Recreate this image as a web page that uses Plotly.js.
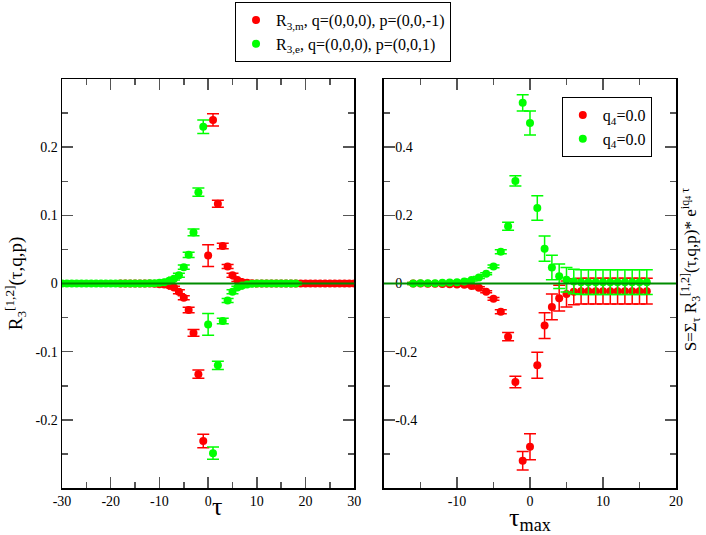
<!DOCTYPE html>
<html><head><meta charset="utf-8">
<script src="https://cdn.plot.ly/plotly-3.0.1.min.js"></script>
<style>body{margin:0;background:#fff}</style></head>
<body><div id="chart" style="width:706px;height:535px"></div>
<script>
// ---- Left panel: R3 vs tau ----
const tauLeftM = [-18,-17,-16,-15,-14,-13,-12,-11,-10,-9,-8,-7,-6,-5,-4,-3,-2,-1,0,1,2,3,4,5,6,7,8,9,10,11,12,13,14,15,16,17,18,19,20,21,22,23,24,25,26,27,28,29,30];
const valLeftM = [0,0,0,0,0,0,0,-0.0005,-0.001,-0.0015,-0.003,-0.006,-0.012,-0.021,-0.039,-0.0725,-0.133,-0.231,0.041,0.240,0.117,0.055,0.025,0.012,0.005,0.002,0.001,0.0005,0,0,0,0,0,0,0,0,0,0,0,0,0,0,0,0,0,0,0,0,0];
const errLeftM = [0.002,0.002,0.002,0.002,0.002,0.002,0.002,0.002,0.002,0.002,0.002,0.002,0.003,0.003,0.004,0.005,0.006,0.010,0.016,0.009,0.005,0.004,0.003,0.003,0.002,0.002,0.002,0.002,0.002,0.002,0.002,0.002,0.002,0.002,0.002,0.002,0.002,0.002,0.002,0.002,0.002,0.002,0.002,0.002,0.002,0.002,0.002,0.002,0.002];

const tauLeftE = [-30,-29,-28,-27,-26,-25,-24,-23,-22,-21,-20,-19,-18,-17,-16,-15,-14,-13,-12,-11,-10,-9,-8,-7,-6,-5,-4,-3,-2,-1,0,1,2,3,4,5,6,7,8,9,10,11,12,13,14,15,16,17,18];
const valLeftE = [0,0,0,0,0,0,0,0,0,0,0,0,0,0,0,0,0,0,0.0005,0.0005,0.001,0.002,0.004,0.007,0.012,0.024,0.042,0.075,0.134,0.230,-0.060,-0.249,-0.120,-0.055,-0.025,-0.012,-0.006,-0.003,-0.0015,-0.0005,0,0,0,0,0,0,0,0,0];
const errLeftE = [0.002,0.002,0.002,0.002,0.002,0.002,0.002,0.002,0.002,0.002,0.002,0.002,0.002,0.002,0.002,0.002,0.002,0.002,0.002,0.002,0.002,0.002,0.002,0.002,0.003,0.003,0.004,0.005,0.006,0.010,0.016,0.009,0.006,0.004,0.003,0.003,0.002,0.002,0.002,0.002,0.002,0.002,0.002,0.002,0.002,0.002,0.002,0.002,0.002];

// ---- Right panel: S vs tau_max ----
const tauRight = [-16,-15,-14,-13,-12,-11,-10,-9,-8,-7,-6,-5,-4,-3,-2,-1,0,1,2,3,4,5,6,7,8,9,10,11,12,13,14,15,16];
const valRightM = [0,0,-0.0005,-0.001,-0.0015,-0.002,-0.003,-0.004,-0.007,-0.0127,-0.0245,-0.045,-0.083,-0.156,-0.289,-0.520,-0.479,-0.240,-0.1235,-0.0686,-0.043,-0.031,-0.024,-0.0225,-0.0225,-0.0225,-0.0225,-0.0225,-0.0225,-0.0225,-0.0225,-0.0225,-0.0225];
const errRightM = [0.003,0.003,0.003,0.003,0.003,0.003,0.003,0.003,0.003,0.003,0.003,0.004,0.006,0.012,0.017,0.027,0.038,0.038,0.038,0.038,0.038,0.038,0.038,0.038,0.038,0.038,0.038,0.038,0.038,0.038,0.038,0.038,0.038];
const valRightE = [0,0.0005,0.001,0.001,0.002,0.003,0.004,0.006,0.010,0.0176,0.0285,0.050,0.093,0.168,0.301,0.530,0.471,0.2215,0.102,0.047,0.0215,0.011,0.006,0.004,0.004,0.004,0.004,0.004,0.004,0.004,0.004,0.004,0.004];
const errRightE = [0.003,0.003,0.003,0.003,0.003,0.003,0.003,0.003,0.003,0.003,0.003,0.004,0.006,0.012,0.015,0.024,0.035,0.036,0.037,0.036,0.036,0.036,0.036,0.036,0.036,0.036,0.036,0.036,0.036,0.036,0.036,0.036,0.036];

// ---- Tick labels ----
const xLeftTicks = [-30,-20,-10,0,10,20,30];
const xLeftText = ['-30','-20','-10','0','10','20','30'];
const xRightTicks = [-20,-10,0,10,20];
const xRightText = ['-20','-10','0','10','20'];
const yLeftTicks = [-0.2,-0.1,0,0.1,0.2];
const yLeftText = ['-0.2','-0.1','0','0.1','0.2'];
const yRightTicks = [-0.4,-0.2,0,0.2,0.4];
const yRightText = ['-0.4','-0.2','0','0.2','0.4'];

const RED = '#ff0000', GREEN = '#00ff00', DKGREEN = '#008b00';
const FONT = 'Liberation Serif, Times New Roman, serif';

function tr(x, y, e, color, name, xa, ya, leg) {
  return {
    x: x, y: y, type: 'scatter', mode: 'markers', name: name,
    xaxis: xa, yaxis: ya, legend: leg, showlegend: true,
    marker: {color: color, size: 8},
    error_y: {type: 'data', array: e, visible: true, color: color, thickness: 1.5, width: 6}
  };
}

const data = [
  tr(tauLeftM, valLeftM, errLeftM, RED, 'R<sub>3,m</sub>, q=(0,0,0), p=(0,0,-1)', 'x', 'y', 'legend'),
  tr(tauLeftE, valLeftE, errLeftE, GREEN, 'R<sub>3,e</sub>, q=(0,0,0), p=(0,0,1)', 'x', 'y', 'legend'),
  tr(tauRight, valRightM, errRightM, RED, 'q<sub>4</sub>=0.0', 'x2', 'y2', 'legend2'),
  tr(tauRight, valRightE, errRightE, GREEN, 'q<sub>4</sub>=0.0', 'x2', 'y2', 'legend2')
];

function ax(extra) {
  return Object.assign({
    showline: true, linecolor: '#000', linewidth: 1.5, mirror: 'ticks',
    ticks: 'inside', ticklen: 11, tickwidth: 1.5, tickcolor: '#555',
    showgrid: false, zeroline: false, tickmode: 'array',
    tickfont: {family: FONT, size: 14, color: '#000'}
  }, extra);
}

const layout = {
  width: 706, height: 535,
  margin: {l: 62, r: 30, t: 79, b: 47, autoexpand: false},
  paper_bgcolor: '#fff', plot_bgcolor: '#fff',
  font: {family: FONT, color: '#000'},
  xaxis: ax({domain: [0, 0.476], range: [-30, 30], anchor: 'y',
    tickvals: xLeftTicks, ticktext: xLeftText,
    minor: {ticks: 'inside', ticklen: 6, dtick: 5, tick0: 0, tickcolor: '#555', tickwidth: 1.5}}),
  yaxis: ax({domain: [0, 1], range: [-0.3, 0.3], anchor: 'x',
    tickvals: yLeftTicks, ticktext: yLeftText,
    minor: {ticks: 'inside', ticklen: 6, dtick: 0.05, tick0: 0, tickcolor: '#555', tickwidth: 1.5},
    title: {text: 'R<sub>3</sub><sup>[1,2]</sup>(τ,q,p)', font: {family: FONT, size: 19}, standoff: 8}}),
  xaxis2: ax({domain: [0.5244, 1], range: [-20, 20], anchor: 'y2',
    tickvals: xRightTicks, ticktext: xRightText,
    minor: {ticks: 'inside', ticklen: 6, dtick: 5, tick0: 0, tickcolor: '#555', tickwidth: 1.5},
    title: {text: 'τ<sub>max</sub>', font: {family: FONT, size: 26}, standoff: 0}}),
  yaxis2: ax({domain: [0, 1], range: [-0.6, 0.6], anchor: 'x2',
    tickvals: yRightTicks, ticktext: yRightText, ticklabelposition: 'inside',
    minor: {ticks: 'inside', ticklen: 6, dtick: 0.1, tick0: 0, tickcolor: '#555', tickwidth: 1.5}}),
  shapes: [
    {type: 'line', xref: 'x domain', yref: 'y', x0: 0, x1: 1, y0: 0, y1: 0, line: {color: DKGREEN, width: 2}, layer: 'above'},
    {type: 'line', xref: 'x2 domain', yref: 'y2', x0: 0, x1: 1, y0: 0, y1: 0, line: {color: DKGREEN, width: 2}, layer: 'above'}
  ],
  annotations: [
    {text: 'τ', xref: 'paper', yref: 'paper', x: 0.2524, y: -0.045, showarrow: false,
     font: {family: FONT, size: 26, color: '#000'}, xanchor: 'center', yanchor: 'middle'},
    {text: 'S=Σ<sub>τ</sub> R<sub>3</sub><sup>[1,2]</sup>(τ,q,p)* e<sup>iq<sub>4</sub> τ</sup>',
     xref: 'paper', yref: 'paper', x: 1.0228, y: 0.535, textangle: -90, showarrow: false,
     font: {family: FONT, size: 17, color: '#000'}, xanchor: 'center', yanchor: 'middle'}
  ],
  legend: {x: 0.2818, y: 1.188, xanchor: 'left', yanchor: 'top',
    bordercolor: '#000', borderwidth: 1, bgcolor: '#fff',
    font: {family: FONT, size: 16, color: '#000'}, tracegroupgap: 0},
  legend2: {x: 0.814, y: 0.956, xanchor: 'left', yanchor: 'top',
    bordercolor: '#000', borderwidth: 1, bgcolor: '#fff',
    font: {family: FONT, size: 16, color: '#000'}}
};

Plotly.newPlot('chart', data, layout, {displayModeBar: false, staticPlot: true});
</script>
</body></html>
